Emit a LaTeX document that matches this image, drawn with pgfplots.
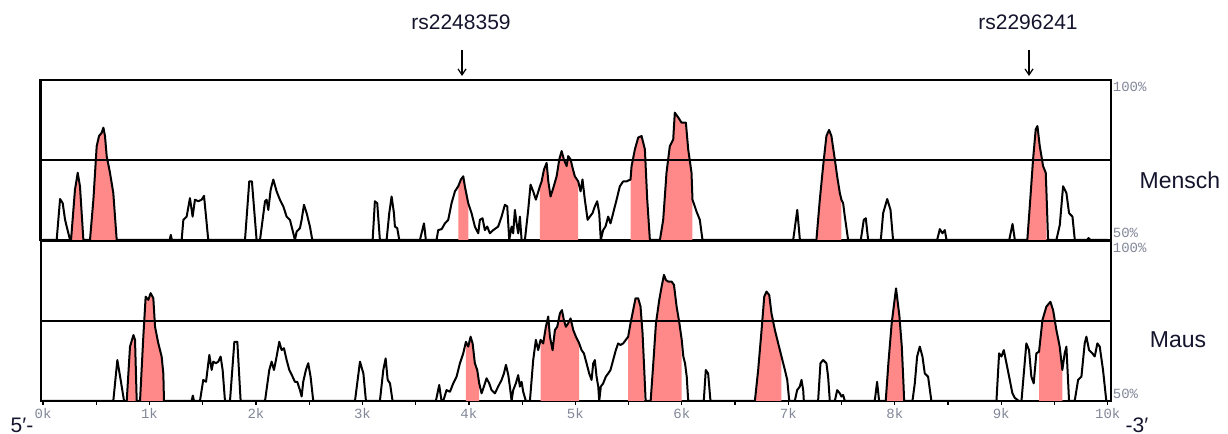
\documentclass[border=0pt]{standalone}
\usepackage{pgfplots}
\usepackage{pgfplotstable}
\pgfplotsset{compat=1.18}
\usetikzlibrary{arrows.meta}
\usepackage{fontspec}
\setmainfont{Liberation Sans}
\newfontfamily\monofont{Liberation Mono}
\definecolor{peak}{RGB}{255,136,136}
\definecolor{ticklab}{RGB}{130,136,152}
\definecolor{navy}{RGB}{20,20,45}
\tikzset{pctlab/.style={inner sep=0.8pt, font=\monofont\fontsize{7}{7}\selectfont, text=ticklab}}
\pgfplotstableread[row sep=\\]{x y\\
0 50\\ 0.128 50\\ 0.160 62.8\\ 0.185 61.5\\ 0.207 56.3\\ 0.238 52.1\\ 0.254 50\\
0.263 50\\ 0.300 65.7\\ 0.326 71.0\\ 0.347 66.8\\ 0.379 50\\
0.441 50\\ 0.473 62.6\\ 0.504 79.3\\ 0.526 82.5\\ 0.551 83.5\\ 0.567 85.1\\ 0.582 82.5\\ 0.598 76.2\\ 0.629 71.0\\ 0.660 64.7\\ 0.692 50\\
1.19 50\\ 1.20 51.6\\ 1.21 50\\
1.302 50\\ 1.318 56.3\\ 1.349 57.3\\ 1.380 63.1\\ 1.405 57.3\\ 1.427 62.6\\ 1.459 62.1\\ 1.490 62.6\\ 1.512 63.8\\ 1.531 57.3\\ 1.552 50\\
1.897 50\\ 1.937 68.3\\ 1.962 68.3\\ 2.006 50\\
2.038 50\\ 2.085 62.1\\ 2.100 62.6\\ 2.116 59.4\\ 2.138 65.7\\ 2.163 68.9\\ 2.194 65.2\\ 2.225 62.6\\ 2.257 60.5\\ 2.288 57.3\\ 2.319 56.3\\ 2.351 52.1\\ 2.366 50\\ 2.382 52.6\\ 2.413 53.7\\ 2.429 56.3\\ 2.451 61.0\\ 2.476 58.4\\ 2.507 54.2\\ 2.529 50\\
3.096 50\\ 3.117 62.1\\ 3.139 61.5\\ 3.164 50\\
3.227 50\\ 3.252 58.4\\ 3.274 63.6\\ 3.296 58.4\\ 3.305 54.2\\ 3.327 53.7\\ 3.346 50\\
3.540 50\\ 3.578 55.2\\ 3.596 50\\
3.696 50\\ 3.712 53.1\\ 3.744 53.4\\ 3.775 55.2\\ 3.806 56.3\\ 3.837 61.5\\ 3.869 65.2\\ 3.900 66.8\\ 3.925 68.9\\ 3.947 69.9\\ 3.962 66.8\\ 3.994 61.5\\ 4.025 58.4\\ 4.056 54.2\\ 4.088 52.1\\ 4.103 56.3\\ 4.128 56.8\\ 4.150 53.1\\ 4.172 54.2\\ 4.197 52.1\\ 4.229 53.1\\ 4.275 54.2\\ 4.307 57.3\\ 4.338 61.0\\ 4.360 60.5\\ 4.379 50\\ 4.401 54.2\\ 4.416 52.1\\ 4.432 59.4\\ 4.448 55.2\\ 4.463 52.1\\ 4.479 57.3\\ 4.495 50\\ 4.526 50\\ 4.557 59.4\\ 4.579 67.3\\ 4.604 65.2\\ 4.629 62.6\\ 4.667 66.8\\ 4.683 68.3\\ 4.705 72.0\\ 4.730 74.1\\ 4.746 68.3\\ 4.767 63.6\\ 4.792 66.2\\ 4.824 69.9\\ 4.849 75.2\\ 4.871 77.8\\ 4.892 75.2\\ 4.918 73.1\\ 4.933 76.2\\ 4.955 75.2\\ 4.974 72.5\\ 4.995 69.9\\ 5.027 68.3\\ 5.049 65.2\\ 5.067 68.9\\ 5.089 62.6\\ 5.115 56.3\\ 5.136 57.3\\ 5.161 58.4\\ 5.183 60.5\\ 5.205 62.1\\ 5.224 58.4\\ 5.239 50\\ 5.261 53.1\\ 5.283 54.2\\ 5.308 57.3\\ 5.330 55.2\\ 5.355 58.4\\ 5.387 62.6\\ 5.418 66.8\\ 5.449 68.3\\ 5.480 68.3\\ 5.518 68.9\\ 5.528 73.1\\ 5.559 78.3\\ 5.590 82.0\\ 5.622 82.5\\ 5.653 78.3\\ 5.675 62.6\\ 5.700 50\\
5.794 50\\ 5.825 56.3\\ 5.856 71.0\\ 5.887 79.3\\ 5.919 81.4\\ 5.934 89.8\\ 5.966 88.3\\ 5.997 86.7\\ 6.038 86.7\\ 6.060 78.3\\ 6.091 71.0\\ 6.100 62.6\\ 6.138 58.9\\ 6.169 56.3\\ 6.194 50\\
7.046 50\\ 7.084 59.4\\ 7.109 50\\
7.264 50\\ 7.296 62.6\\ 7.327 73.1\\ 7.358 82.5\\ 7.383 84.4\\ 7.405 82.5\\ 7.437 75.2\\ 7.459 69.9\\ 7.484 64.7\\ 7.499 62.6\\ 7.515 61.5\\ 7.531 57.3\\ 7.562 50\\
7.681 50\\ 7.709 56.3\\ 7.728 56.8\\ 7.750 50\\
7.869 50\\ 7.891 58.4\\ 7.929 62.8\\ 7.960 59.4\\ 7.984 50\\
8.398 50\\ 8.423 53.4\\ 8.448 52.1\\ 8.470 53.1\\ 8.486 50\\
9.075 50\\ 9.106 55.0\\ 9.128 50\\
9.245 50\\ 9.268 60.5\\ 9.299 75.2\\ 9.324 84.6\\ 9.340 85.6\\ 9.362 79.3\\ 9.393 73.1\\ 9.418 71.0\\ 9.425 64.7\\ 9.440 50\\
9.518 50\\ 9.550 54.7\\ 9.581 66.8\\ 9.612 64.7\\ 9.637 58.4\\ 9.669 57.3\\ 9.691 50\\
9.806 50\\ 9.820 50.6\\ 9.837 50\\ 10 50\\
}\toptab
\pgfplotstableread[row sep=\\]{x y\\
0 50\\ 0.660 50\\ 0.698 62.8\\ 0.729 56.6\\ 0.761 50\\
0.786 50\\ 0.817 67.0\\ 0.849 70.6\\ 0.864 69.1\\ 0.880 50\\
0.911 50\\ 0.942 70.1\\ 0.964 82.6\\ 0.989 81.6\\ 1.011 83.7\\ 1.036 82.1\\ 1.052 73.2\\ 1.083 68.0\\ 1.114 63.9\\ 1.130 58.6\\ 1.136 50\\
1.396 50\\ 1.407 51.7\\ 1.418 50\\
1.474 50\\ 1.505 56.6\\ 1.531 56.0\\ 1.562 64.4\\ 1.584 59.7\\ 1.599 62.3\\ 1.624 61.8\\ 1.646 62.3\\ 1.668 63.9\\ 1.687 59.7\\ 1.709 50\\
1.756 50\\ 1.797 68.5\\ 1.825 68.5\\ 1.856 50\\
2.085 50\\ 2.125 59.7\\ 2.147 62.3\\ 2.169 59.7\\ 2.194 63.9\\ 2.219 68.5\\ 2.241 65.9\\ 2.263 66.5\\ 2.288 62.8\\ 2.313 59.7\\ 2.344 57.6\\ 2.366 56.0\\ 2.388 56.0\\ 2.413 53.4\\ 2.429 51.4\\ 2.444 56.0\\ 2.469 59.7\\ 2.491 61.8\\ 2.513 57.6\\ 2.538 50\\
2.930 50\\ 2.977 62.3\\ 3.009 58.6\\ 3.033 50\\
3.164 50\\ 3.196 59.7\\ 3.218 63.3\\ 3.237 56.6\\ 3.259 55.5\\ 3.283 50\\
3.690 50\\ 3.721 55.0\\ 3.743 50\\
3.759 50\\ 3.790 53.4\\ 3.822 52.9\\ 3.853 55.5\\ 3.884 57.6\\ 3.916 61.8\\ 3.947 64.9\\ 3.972 68.5\\ 3.994 67.0\\ 4.016 70.1\\ 4.035 68.0\\ 4.056 61.8\\ 4.078 59.7\\ 4.097 55.5\\ 4.119 52.4\\ 4.141 54.5\\ 4.166 57.1\\ 4.191 55.5\\ 4.213 53.4\\ 4.244 52.4\\ 4.275 54.5\\ 4.307 56.6\\ 4.329 58.6\\ 4.348 61.3\\ 4.370 58.1\\ 4.385 54.5\\ 4.401 50\\ 4.416 53.4\\ 4.441 55.5\\ 4.463 58.1\\ 4.479 54.5\\ 4.495 56.0\\ 4.510 52.9\\ 4.535 50\\
4.573 50\\ 4.604 62.8\\ 4.629 69.1\\ 4.651 65.9\\ 4.673 69.1\\ 4.698 68.0\\ 4.723 73.2\\ 4.745 76.4\\ 4.761 70.1\\ 4.786 65.9\\ 4.808 72.2\\ 4.830 73.2\\ 4.855 77.4\\ 4.874 78.4\\ 4.892 75.3\\ 4.911 73.2\\ 4.933 74.3\\ 4.955 75.8\\ 4.980 72.2\\ 5.005 70.1\\ 5.036 68.0\\ 5.058 65.9\\ 5.080 64.9\\ 5.105 61.8\\ 5.130 58.6\\ 5.152 56.6\\ 5.168 61.8\\ 5.183 62.8\\ 5.199 57.6\\ 5.215 54.5\\ 5.224 50\\ 5.239 54.5\\ 5.261 55.5\\ 5.286 57.6\\ 5.308 58.6\\ 5.330 59.7\\ 5.355 62.8\\ 5.380 65.9\\ 5.402 68.0\\ 5.424 67.5\\ 5.449 68.0\\ 5.474 69.1\\ 5.496 70.1\\ 5.518 74.3\\ 5.543 78.4\\ 5.565 82.1\\ 5.590 82.1\\ 5.612 79.5\\ 5.631 71.2\\ 5.647 59.7\\ 5.660 50\\
5.707 50\\ 5.732 61.8\\ 5.757 74.3\\ 5.788 81.6\\ 5.810 85.7\\ 5.832 89.4\\ 5.851 87.8\\ 5.873 87.3\\ 5.904 87.3\\ 5.926 86.3\\ 5.951 79.5\\ 5.977 74.3\\ 5.999 69.1\\ 6.014 63.9\\ 6.030 61.8\\ 6.046 57.6\\ 6.060 50\\
6.206 50\\ 6.225 59.7\\ 6.247 58.6\\ 6.269 50\\
6.686 50\\ 6.717 59.7\\ 6.749 72.2\\ 6.774 82.6\\ 6.795 84.2\\ 6.821 83.1\\ 6.842 77.4\\ 6.874 72.2\\ 6.905 68.0\\ 6.936 63.9\\ 6.968 59.7\\ 6.990 56.6\\ 7.009 50\\
7.061 50\\ 7.083 53.4\\ 7.108 54.5\\ 7.124 56.6\\ 7.140 53.4\\ 7.146 50\\
7.280 50\\ 7.302 61.8\\ 7.327 62.8\\ 7.358 61.8\\ 7.374 57.6\\ 7.390 50\\
7.437 50\\ 7.459 53.4\\ 7.484 52.4\\ 7.499 51.4\\ 7.515 51.9\\ 7.531 50\\
7.812 50\\ 7.834 56.0\\ 7.853 50\\
7.915 50\\ 7.940 61.8\\ 7.971 74.3\\ 8.012 85.2\\ 8.044 76.4\\ 8.066 67.0\\ 8.081 56.0\\ 8.088 50\\
8.166 50\\ 8.188 55.5\\ 8.210 63.9\\ 8.235 67.0\\ 8.260 63.9\\ 8.282 58.6\\ 8.313 57.6\\ 8.344 50\\
8.955 50\\ 8.980 64.9\\ 9.002 63.9\\ 9.024 65.9\\ 9.049 61.8\\ 9.080 56.6\\ 9.105 52.4\\ 9.127 51.0\\ 9.165 50\\
9.190 50\\ 9.236 68.0\\ 9.261 65.9\\ 9.283 57.6\\ 9.305 55.5\\ 9.330 64.9\\ 9.355 65.4\\ 9.387 75.3\\ 9.424 79.5\\ 9.462 81.0\\ 9.487 78.4\\ 9.518 72.2\\ 9.549 67.0\\ 9.574 59.7\\ 9.596 64.9\\ 9.612 67.0\\ 9.637 50\\
9.690 50\\ 9.722 56.6\\ 9.753 57.6\\ 9.784 68.0\\ 9.800 70.1\\ 9.825 65.9\\ 9.856 64.9\\ 9.878 63.9\\ 9.903 68.0\\ 9.925 67.0\\ 9.956 59.7\\ 9.987 50\\ 10 50\\
}\bottab
\begin{document}
\begin{tikzpicture}[x=1pt,y=1pt]
\path[use as bounding box] (0,0) rectangle (614,217);
\pgfplotsset{vista/.style={scale only axis, width=535pt, height=80pt,
  xmin=-0.02, xmax=10.03, ymin=50, ymax=100, ytick=\empty, clip mode=individual,
  axis line style={line width=1.4pt}, anchor=south west},
  red seg/.style={draw=none, fill=peak, forget plot, restrict x to domain=#1}}
% ---------- top panel (Mensch)
\begin{axis}[vista, at={(20.45pt,97pt)}, xtick=\empty]
\addplot[red seg={0.262:0.380}] table[x=x,y=y] {\toptab} \closedcycle;
\addplot[red seg={0.440:0.693}] table[x=x,y=y] {\toptab} \closedcycle;
\addplot[red seg={3.899:3.995}] table[x=x,y=y] {\toptab} \closedcycle;
\addplot[red seg={4.666:5.028}] table[x=x,y=y] {\toptab} \closedcycle;
\addplot[red seg={5.517:5.701}] table[x=x,y=y] {\toptab} \closedcycle;
\addplot[red seg={5.793:6.101}] table[x=x,y=y] {\toptab} \closedcycle;
\addplot[red seg={7.263:7.510}] table[x=x,y=y] {\toptab} \closedcycle;
\addplot[red seg={9.244:9.426}] table[x=x,y=y] {\toptab} \closedcycle;
\addplot[line width=0.7pt] coordinates {(-0.02,75) (10.03,75)};
\addplot[black, line width=1pt, line join=round] table[x=x,y=y] {\toptab};
\node[pctlab, anchor=north west] at (rel axis cs:1,1) {100\%};
\node[pctlab, anchor=south west] at (rel axis cs:1,0) {50\%};
\end{axis}
% ---------- bottom panel (Maus)
\begin{axis}[vista, at={(20.45pt,16.5pt)},
  xtick={0,1,...,10}, xticklabels={0k,1k,2k,3k,4k,5k,6k,7k,8k,9k,10k},
  minor x tick num=1, xtick pos=bottom, tick align=outside,
  major tick length=2pt, minor tick length=2pt,
  every tick/.style={black, line width=0.6pt},
  xticklabel style={font=\monofont\fontsize{7}{7}\selectfont, text=ticklab, inner sep=1.5pt}]
\addplot[red seg={0.785:0.881}] table[x=x,y=y] {\bottab} \closedcycle;
\addplot[red seg={0.910:1.137}] table[x=x,y=y] {\bottab} \closedcycle;
\addplot[red seg={3.960:4.098}] table[x=x,y=y] {\bottab} \closedcycle;
\addplot[red seg={4.672:5.040}] table[x=x,y=y] {\bottab} \closedcycle;
\addplot[red seg={5.485:5.650}] table[x=x,y=y] {\bottab} \closedcycle;
\addplot[red seg={5.706:6.000}] table[x=x,y=y] {\bottab} \closedcycle;
\addplot[red seg={6.685:6.937}] table[x=x,y=y] {\bottab} \closedcycle;
\addplot[red seg={7.914:8.082}] table[x=x,y=y] {\bottab} \closedcycle;
\addplot[red seg={9.354:9.575}] table[x=x,y=y] {\bottab} \closedcycle;
\addplot[line width=0.7pt] coordinates {(-0.02,75) (10.03,75)};
\addplot[black, line width=1pt, line join=round] table[x=x,y=y] {\bottab};
\node[pctlab, anchor=north west] at (rel axis cs:1,1) {100\%};
\node[pctlab, anchor=south west] at (rel axis cs:1,0) {50\%};
\end{axis}
% ---------- annotations
\node[font=\fontsize{10.5}{11}\selectfont, text=navy] at (230.5,206) {rs2248359};
\draw[line width=0.6pt, -{Straight Barb[length=3pt,width=4pt]}] (231,192) -- (231,179);
\node[font=\fontsize{10.5}{11}\selectfont, text=navy] at (514,206) {rs2296241};
\draw[line width=0.6pt, -{Straight Barb[length=3pt,width=4pt]}] (514.5,192) -- (514.5,179);
\node[font=\fontsize{11.5}{12}\selectfont, text=navy] at (590,127) {Mensch};
\node[font=\fontsize{11.5}{12}\selectfont, text=navy] at (589,47) {Maus};
\node[font=\fontsize{10.5}{11}\selectfont, text=navy] at (11,4.5) {5′-};
\node[font=\fontsize{10.5}{11}\selectfont, text=navy] at (568.5,4.5) {-3′};
\end{tikzpicture}
\end{document}
